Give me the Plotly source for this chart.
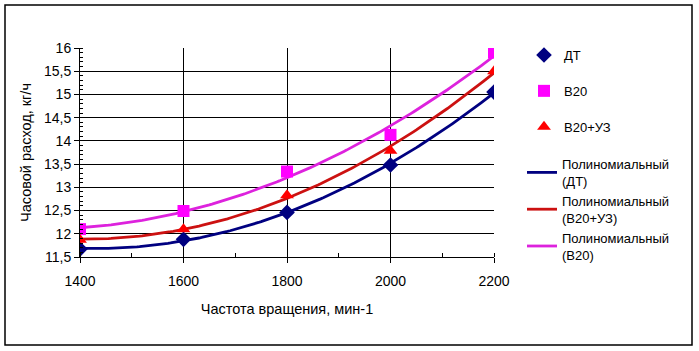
import numpy as np
import plotly.graph_objects as go

rpm = [1400, 1600, 1800, 2000, 2200]
dt = [11.67, 11.88, 12.46, 13.48, 15.05]
b20 = [12.10, 12.49, 13.34, 14.13, 15.90]
b20uz = [11.87, 12.10, 12.83, 13.79, 15.50]

x_tick_vals = [1400, 1600, 1800, 2000, 2200]
y_tick_vals = [11.5, 12, 12.5, 13, 13.5, 14, 14.5, 15, 15.5, 16]

NAVY = "#000080"
MAG = "#FF00FF"
MAG_LINE = "#DD22DD"
RED = "#FF0000"
RED_LINE = "#CC1111"

FONT = "Liberation Sans, Arial, sans-serif"

xf = np.linspace(rpm[0], rpm[-1], 161)

def trend(y):
    c = np.polyfit(rpm, y, 2)
    return np.polyval(c, xf)

fig = go.Figure()

fig.add_trace(go.Scatter(x=xf, y=trend(dt), mode="lines", line=dict(color=NAVY, width=2.8),
                         name="Полиномиальный<br>(ДТ)", legend="legend2", legendgroup="p1"))
fig.add_trace(go.Scatter(x=xf, y=trend(b20uz), mode="lines", line=dict(color=RED_LINE, width=2.8),
                         name="Полиномиальный<br>(В20+УЗ)", legend="legend2", legendgroup="p2"))
fig.add_trace(go.Scatter(x=xf, y=trend(b20), mode="lines", line=dict(color=MAG_LINE, width=2.8),
                         name="Полиномиальный<br>(В20)", legend="legend2", legendgroup="p3"))

fig.add_trace(go.Scatter(x=rpm, y=dt, mode="markers", name="ДТ", legendgroup="m1",
                         marker=dict(symbol="diamond", size=12, color=NAVY)))
fig.add_trace(go.Scatter(x=rpm, y=b20, mode="markers", name="В20", legendgroup="m2",
                         marker=dict(symbol="square", size=12, color=MAG)))
fig.add_trace(go.Scatter(x=rpm, y=b20uz, mode="markers", name="В20+УЗ", legendgroup="m3",
                         marker=dict(symbol="triangle-up", size=12, color=RED)))

L, R, T, B = 80, 205, 48, 94
W, H = 699, 351
pw, ph = W - L - R, H - T - B

def px_x(p):
    return (p - L) / pw

def px_y(p):
    return (H - B - p) / ph

fig.update_layout(
    width=W, height=H,
    margin=dict(l=L, r=R, t=T, b=B),
    paper_bgcolor="white", plot_bgcolor="white",
    separators=", ",
    font=dict(family=FONT, size=14, color="black"),
    legend=dict(x=px_x(524), y=px_y(40), xanchor="left", yanchor="top",
                tracegroupgap=16, font=dict(size=13), bgcolor="rgba(0,0,0,0)",
                traceorder="grouped"),
    legend2=dict(x=px_x(522), y=px_y(149), xanchor="left", yanchor="top",
                 tracegroupgap=0, font=dict(size=13), bgcolor="rgba(0,0,0,0)",
                 traceorder="grouped"),
    xaxis=dict(range=[1400, 2200], tickvals=x_tick_vals, showgrid=True, gridcolor="black",
               gridwidth=1, showline=True, linecolor="black", linewidth=1,
               ticks="outside", ticklen=5, tickcolor="black", zeroline=False,
               ticklabelstandoff=6, tickfont=dict(size=14),
               minor=dict(dtick=100, tick0=1400, ticks="inside", ticklen=4, tickcolor="black", showgrid=False),
               title=dict(text="Частота вращения, мин-1", standoff=16, font=dict(size=14.5))),
    yaxis=dict(range=[11.5, 16], tickvals=y_tick_vals, showgrid=True, gridcolor="black",
               gridwidth=1, showline=True, linecolor="black", linewidth=1,
               ticks="outside", ticklen=5, tickcolor="black", zeroline=False,
               tickfont=dict(size=14),
               minor=dict(dtick=0.1, tick0=11.5, ticks="inside", ticklen=3, tickcolor="black", showgrid=False),
               title=dict(text="Часовой расход, кг/ч", standoff=8, font=dict(size=14.5))),
    showlegend=True,
)

fig.add_shape(type="rect", xref="paper", yref="paper",
              x0=px_x(5), x1=px_x(692), y0=px_y(345), y1=px_y(5),
              line=dict(color="black", width=1.5), fillcolor="rgba(0,0,0,0)", layer="below")

fig.write_html("out.html")
